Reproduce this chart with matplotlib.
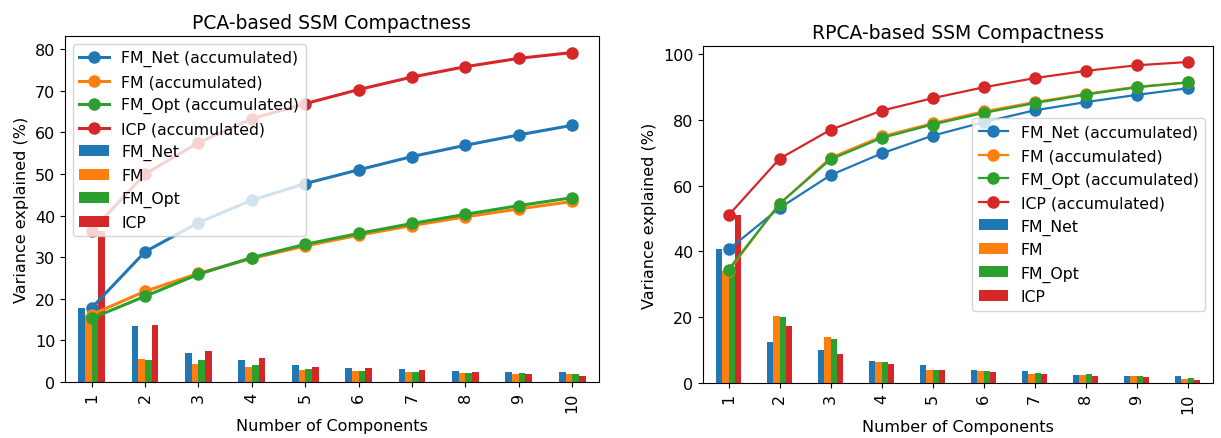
import numpy as np
import matplotlib.pyplot as plt

components = ['1', '2', '3', '4', '5', '6', '7', '8', '9', '10']
methods = ['FM_Net', 'FM', 'FM_Opt', 'ICP']

# explained variance per component (%), PCA
pca_fm_net = [17.8, 13.5, 7.0, 5.4, 4.0, 3.3, 3.2, 2.7, 2.5, 2.3]
pca_fm = [16.2, 5.6, 4.3, 3.6, 3.0, 2.6, 2.3, 2.1, 1.9, 1.8]
pca_fm_opt = [15.3, 5.3, 5.3, 4.0, 3.2, 2.6, 2.4, 2.2, 2.1, 1.9]
pca_icp = [36.3, 13.7, 7.5, 5.8, 3.6, 3.4, 3.0, 2.5, 2.0, 1.4]

# explained variance per component (%), RPCA
rpca_fm_net = [40.6, 12.6, 10.0, 6.6, 5.4, 4.1, 3.6, 2.5, 2.2, 2.0]
rpca_fm = [34.0, 20.5, 14.0, 6.5, 4.0, 3.6, 2.8, 2.5, 2.2, 1.3]
rpca_fm_opt = [34.5, 20.0, 13.5, 6.5, 4.1, 3.5, 3.0, 2.6, 2.2, 1.5]
rpca_icp = [51.0, 17.2, 8.8, 5.8, 3.8, 3.3, 2.8, 2.2, 1.7, 1.0]

colors = ['#1f77b4', '#ff7f0e', '#2ca02c', '#d62728']

plt.rcParams['font.family'] = 'DejaVu Sans'
plt.rcParams['font.size'] = 11.5

fig = plt.figure(figsize=(12.21, 4.39), dpi=100)
ax1 = fig.add_axes([0.0532, 0.1276, 0.4373, 0.788])
ax2 = fig.add_axes([0.5758, 0.1253, 0.4177, 0.7677])


def draw(ax, series, title, loc, lw):
    x = np.arange(len(components))
    width = 0.125
    for i, (name, vals) in enumerate(zip(methods, series)):
        ax.plot(x, np.cumsum(vals), '-o', color=colors[i], lw=lw, ms=8,
                label=name + ' (accumulated)', zorder=3)
    for i, (name, vals) in enumerate(zip(methods, series)):
        ax.bar(x + (i - 1.5) * width, vals, width, color=colors[i], label=name, zorder=2)
    ax.set_xlim(-0.5, len(components) - 0.5)
    ax.set_xticks(x)
    ax.set_xticklabels(components, rotation=90)
    ax.set_xlabel('Number of Components')
    ax.set_ylabel('Variance explained (%)')
    ax.set_title(title, fontsize=13.5)
    ax.legend(loc=loc, fontsize=11.3, handlelength=1.9)


draw(ax1, [pca_fm_net, pca_fm, pca_fm_opt, pca_icp], 'PCA-based SSM Compactness', 'upper left', 2.2)
draw(ax2, [rpca_fm_net, rpca_fm, rpca_fm_opt, rpca_icp], 'RPCA-based SSM Compactness', 'center right', 1.6)

fig.savefig('out.png')
